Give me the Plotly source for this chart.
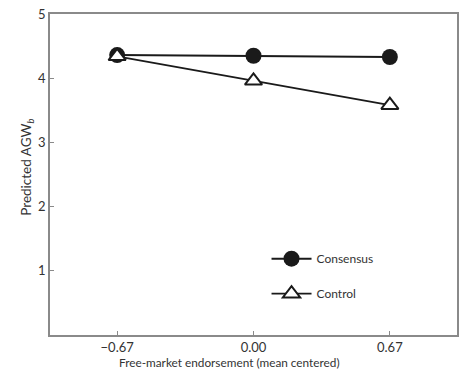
import plotly.graph_objects as go

x_vals = [-0.67, 0.00, 0.67]
x_ticklabels = ["\u22120.67", "0.00", "0.67"]
consensus = [4.36, 4.35, 4.33]
control = [4.34, 3.96, 3.58]
y_ticks = [1, 2, 3, 4, 5]
x_title = "Free-market endorsement (mean centered)"
y_title = "Predicted AGW<sub><i>b</i></sub>"

fig = go.Figure()
fig.add_trace(go.Scatter(
    x=x_vals, y=consensus, name="Consensus", mode="lines+markers",
    legendgroup="a",
    line=dict(color="#1a1a1a", width=2),
    marker=dict(symbol="circle", size=16, color="#1a1a1a", line=dict(width=0)),
))
fig.add_trace(go.Scatter(
    x=x_vals, y=control, name="Control", mode="lines+markers",
    legendgroup="b",
    line=dict(color="#1a1a1a", width=1.8),
    marker=dict(symbol="triangle-up", size=15, color="white",
                line=dict(width=2, color="#1a1a1a")),
))

font_family = "Lato, Open Sans, sans-serif"
fig.update_layout(
    width=469, height=374,
    margin=dict(l=50, r=12, t=14, b=39, autoexpand=False),
    paper_bgcolor="white", plot_bgcolor="white",
    font=dict(family=font_family, size=12, color="#333333"),
    showlegend=True,
    legend=dict(x=0.532, y=0.283, xanchor="left", yanchor="top",
                bgcolor="rgba(0,0,0,0)", font=dict(size=12, color="#333333"),
                tracegroupgap=16, itemwidth=40),
    xaxis=dict(range=[-1, 1], tickvals=x_vals, ticktext=x_ticklabels,
               automargin=False,
               showgrid=False, zeroline=False, showline=True, mirror=True,
               linecolor="#8a8a8a", linewidth=1.5, ticks="inside", ticklen=4,
               tickcolor="#8a8a8a", tickfont=dict(size=13)),
    yaxis=dict(range=[0, 5], tickvals=y_ticks, automargin=False,
               showgrid=False, zeroline=False, showline=True, mirror=True,
               linecolor="#8a8a8a", linewidth=1.5, ticks="inside", ticklen=4,
               tickcolor="#8a8a8a", tickfont=dict(size=13)),
    annotations=[
        dict(text=x_title, xref="paper", yref="paper", x=0.44, y=-0.056,
             xanchor="center", yanchor="top", showarrow=False,
             font=dict(size=11.8, color="#333333")),
        dict(text=y_title, xref="paper", yref="paper", x=-0.055, y=0.523,
             xanchor="center", yanchor="middle", textangle=-90, showarrow=False,
             font=dict(size=13.5, color="#333333")),
    ],
)

fig.write_html("out.html", config={"displayModeBar": False},
               post_script="document.body.style.margin='0';")
